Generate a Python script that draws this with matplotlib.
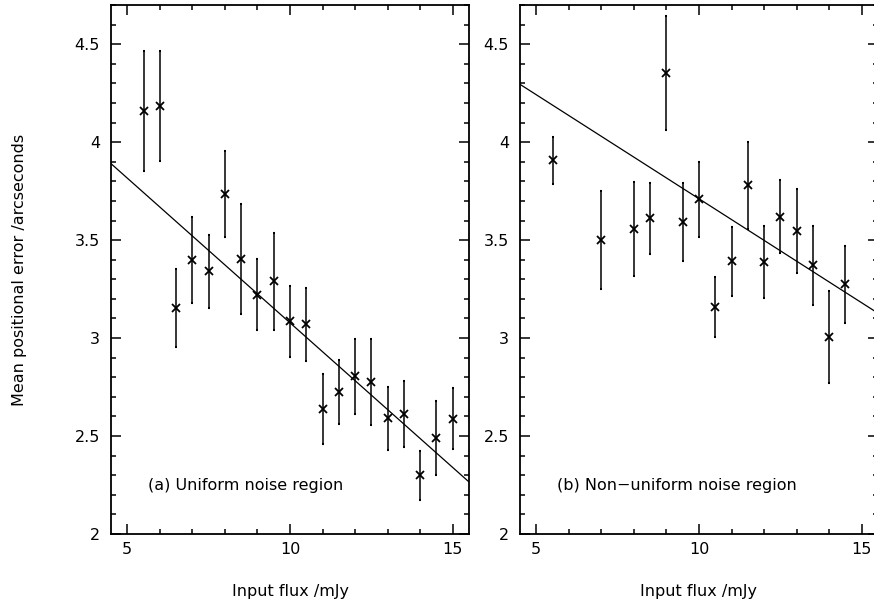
import matplotlib
matplotlib.use("Agg")
import matplotlib.pyplot as plt
import numpy as np
from matplotlib.ticker import MultipleLocator

plt.rcParams['font.family'] = ['DejaVu Sans']

# Panel (a): Uniform noise region
flux_a = [5.5, 6, 6.5, 7, 7.5, 8, 8.5, 9, 9.5, 10, 10.5, 11, 11.5, 12, 12.5, 13, 13.5, 14, 14.5, 15]
err_a_mean = [4.16, 4.185, 3.155, 3.40, 3.34, 3.735, 3.405, 3.222, 3.29, 3.085, 3.07, 2.637, 2.725,
              2.805, 2.775, 2.59, 2.613, 2.30, 2.49, 2.589]
err_a_sig = [0.305, 0.28, 0.20, 0.22, 0.185, 0.22, 0.28, 0.182, 0.247, 0.18, 0.185, 0.178, 0.165,
             0.19, 0.218, 0.16, 0.167, 0.125, 0.19, 0.155]
fit_a = [4.555, -0.1477]  # intercept, slope

# Panel (b): Non-uniform noise region
flux_b = [5.5, 7, 8, 8.5, 9, 9.5, 10, 10.5, 11, 11.5, 12, 12.5, 13, 13.5, 14, 14.5]
err_b_mean = [3.907, 3.502, 3.555, 3.611, 4.354, 3.592, 3.708, 3.158, 3.393, 3.779, 3.388, 3.619,
              3.546, 3.371, 3.005, 3.274]
err_b_sig = [0.12, 0.25, 0.24, 0.18, 0.29, 0.20, 0.19, 0.155, 0.176, 0.22, 0.182, 0.187,
             0.216, 0.20, 0.235, 0.197]
fit_b = [4.773, -0.1062]

labels = ["(a) Uniform noise region", "(b) Non\u2212uniform noise region"]
xlabel = "Input flux /mJy"
ylabel = "Mean positional error /arcseconds"

W, H = 874, 605
fig = plt.figure(figsize=(W / 100, H / 100), dpi=100)
axw = 358 / W
axh = 529 / H
ax_a = fig.add_axes([111 / W, 71 / H, axw, axh])
ax_b = fig.add_axes([520 / W, 71 / H, axw, axh])

FS = 11.5
for ax, fx, fy, fe, fit, lab in [(ax_a, flux_a, err_a_mean, err_a_sig, fit_a, labels[0]),
                                 (ax_b, flux_b, err_b_mean, err_b_sig, fit_b, labels[1])]:
    ax.set_xlim(4.5, 15.5)
    ax.set_ylim(2.0, 4.7)
    ax.errorbar(fx, fy, yerr=fe, fmt='none', ecolor='black', elinewidth=1.1,
                capsize=0.8, capthick=1.5)
    ax.plot(fx, fy, linestyle='none', marker='x', color='black', markersize=5.5,
            markeredgewidth=1.3)
    xs = np.array(ax.get_xlim())
    ax.plot(xs, fit[0] + fit[1] * xs, color='black', linewidth=0.9)
    ax.text(5.65, 2.25, lab, fontsize=FS, va='center', ha='left')
    ax.xaxis.set_major_locator(MultipleLocator(5))
    ax.xaxis.set_minor_locator(MultipleLocator(1))
    ax.yaxis.set_major_locator(MultipleLocator(0.5))
    ax.yaxis.set_minor_locator(MultipleLocator(0.1))
    ax.set_yticks([2, 2.5, 3, 3.5, 4, 4.5])
    ax.set_yticklabels(["2", "2.5", "3", "3.5", "4", "4.5"])
    ax.set_xticks([5, 10, 15])
    ax.set_xticklabels(["5", "10", "15"])
    ax.tick_params(which='both', direction='in', top=True, right=True, labelsize=FS,
                   width=1.1, color='black')
    ax.tick_params(which='major', length=7)
    ax.tick_params(which='minor', length=3.5)
    ax.tick_params(axis='y', which='major', pad=8)
    ax.tick_params(axis='x', which='major', pad=6)
    for s in ax.spines.values():
        s.set_linewidth(1.3)
    ax.set_xlabel(xlabel, fontsize=FS, labelpad=19)

fig.text(20 / W, 1 - 270 / H, ylabel, rotation=90, fontsize=FS, va='center', ha='center')

fig.savefig("out.png", dpi=100)
